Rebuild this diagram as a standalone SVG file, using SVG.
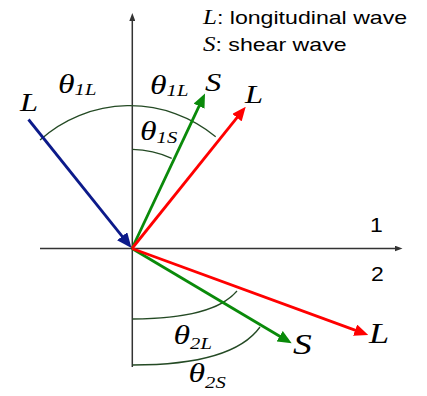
<svg xmlns="http://www.w3.org/2000/svg" width="427" height="396" viewBox="0 0 427 396">
<defs>
<style>
.axis{stroke:#333;stroke-width:1.5;fill:none}
.ray{stroke-width:2.8;fill:none}
.arc{stroke:#244a24;stroke-width:1.3;fill:none}
.it{font-family:"Liberation Serif","Times New Roman",serif;font-style:italic;fill:#000}
.sans{font-family:"Liberation Sans",Arial,sans-serif;fill:#000}
</style>
<marker id="axHead" viewBox="0 0 8 6" refX="1" refY="3" markerWidth="8" markerHeight="6" markerUnits="userSpaceOnUse" orient="auto"><path d="M0,0 L8,3 L0,6 z" fill="#333"/></marker>
<marker id="hBlue" viewBox="0 0 15 13" refX="3" refY="6.5" markerWidth="15" markerHeight="13" markerUnits="userSpaceOnUse" orient="auto"><path d="M0,0 L15,6.5 L0,13 z" fill="#0c1a8a"/></marker>
<marker id="hGreen" viewBox="0 0 14 12" refX="2" refY="6" markerWidth="14" markerHeight="12" markerUnits="userSpaceOnUse" orient="auto"><path d="M0,0 L14,6 L0,12 z" fill="#0a8a0a"/></marker>
<marker id="hRed" viewBox="0 0 14 12" refX="2" refY="6" markerWidth="14" markerHeight="12" markerUnits="userSpaceOnUse" orient="auto"><path d="M0,0 L14,6 L0,12 z" fill="#ff0000"/></marker>
</defs>
<rect width="427" height="396" fill="#fff"/>
<g id="axes">
<line class="axis" x1="132.3" y1="367" x2="132.3" y2="20" marker-end="url(#axHead)"/>
<line class="axis" x1="40" y1="248.5" x2="395.5" y2="248.5" marker-end="url(#axHead)"/>
</g>
<g id="arcs">
<path class="arc" d="M40,140 A134.6,134.6 0 0 1 215.7,136.7"/>
<path class="arc" d="M132.5,149.3 A97,97 0 0 1 171.7,158.3"/>
<path class="arc" d="M132.5,319 C200,319 225,305 237,291"/>
<path class="arc" d="M132.5,365 C210,365 245,348 260,327"/>
</g>
<g id="connectors">
<line class="ray" stroke="#0c1a8a" x1="28.5" y1="119.5" x2="124" y2="238.6" marker-end="url(#hBlue)"/>
<line class="ray" stroke="#0a8a0a" x1="132" y1="248.5" x2="199.9" y2="104.4" marker-end="url(#hGreen)"/>
<line class="ray" stroke="#ff0000" x1="132" y1="248.5" x2="238.2" y2="116.1" marker-end="url(#hRed)"/>
<line class="ray" stroke="#0a8a0a" x1="132" y1="248.5" x2="281.4" y2="337.2" marker-end="url(#hGreen)"/>
<line class="ray" stroke="#ff0000" x1="132" y1="248.5" x2="357" y2="330.9" marker-end="url(#hRed)"/>
</g>
<g id="legend">
<text transform="translate(203,24) scale(1.25,1)"><tspan class="it" font-size="20">L</tspan><tspan class="sans" font-size="18.5">: longitudinal wave</tspan></text>
<text transform="translate(203,50.5) scale(1.25,1)"><tspan class="it" font-size="20">S</tspan><tspan class="sans" font-size="18.5">: shear wave</tspan></text>
</g>
<g id="media-labels">
<text class="sans" font-size="20" transform="translate(370,231.5) scale(1.15,1)">1</text>
<text class="sans" font-size="20" transform="translate(371,281) scale(1.15,1)">2</text>
</g>
<g id="wave-labels">
<text class="it" font-size="26" transform="translate(20,110.7) scale(1.25,1)">L</text>
<text class="it" font-size="26" transform="translate(205,91) scale(1.25,1)">S</text>
<text class="it" font-size="26" transform="translate(245,103.3) scale(1.25,1)">L</text>
<text class="it" font-size="30" transform="translate(293,354) scale(1.25,1)">S</text>
<text class="it" font-size="29" transform="translate(369,343.3) scale(1.25,1)">L</text>
</g>
<g id="angle-labels">
<text class="it" transform="translate(58,93) scale(1.25,1)"><tspan font-size="27">θ</tspan><tspan font-size="16.5" dy="2">1L</tspan></text>
<text class="it" transform="translate(150,94) scale(1.25,1)"><tspan font-size="27">θ</tspan><tspan font-size="16.5" dy="2">1L</tspan></text>
<text class="it" transform="translate(140,140) scale(1.25,1)"><tspan font-size="27">θ</tspan><tspan font-size="16.5" dy="3">1S</tspan></text>
<text class="it" transform="translate(173.5,344) scale(1.25,1)"><tspan font-size="27">θ</tspan><tspan font-size="16.5" dy="5">2L</tspan></text>
<text class="it" transform="translate(188.5,382) scale(1.25,1)"><tspan font-size="27">θ</tspan><tspan font-size="16.5" dy="6">2S</tspan></text>
</g>
</svg>
